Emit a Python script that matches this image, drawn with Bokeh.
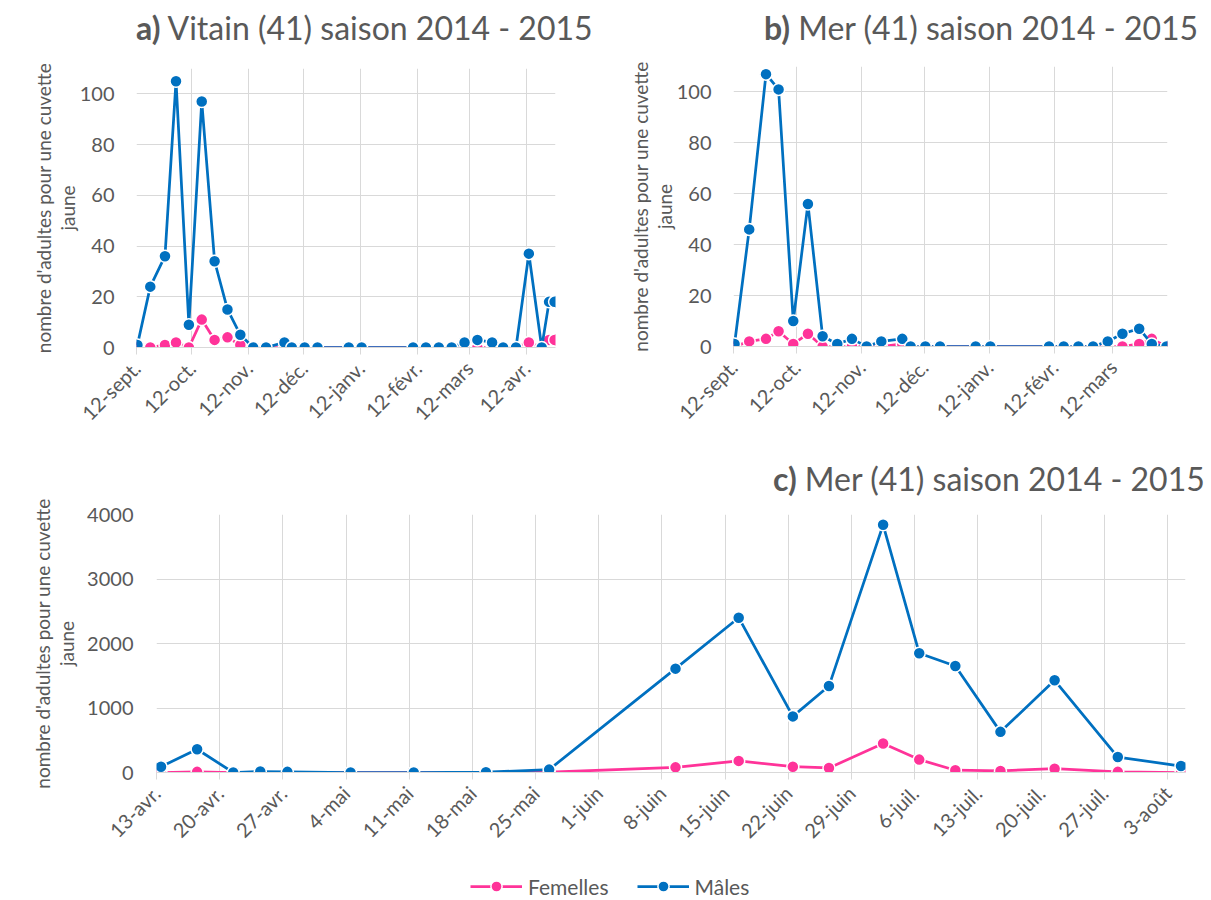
import math
import pandas as pd
from bokeh.plotting import figure
from bokeh.models import FixedTicker, Legend, LegendItem, Range1d, ColumnDataSource, Div
from bokeh.layouts import column, row
from bokeh.embed import file_html
from bokeh.resources import INLINE

FONT = "Lato"
TXT = "#595959"
GRID = "#d9d9d9"
BLUE = "#0070C0"
PINK = "#FF3399"

# ---------------- data ----------------
a_dates = ["2014-09-12", "2014-09-19", "2014-09-27", "2014-10-03", "2014-10-10", "2014-10-17",
           "2014-10-24", "2014-10-31", "2014-11-07", "2014-11-14", "2014-11-21", "2014-12-01",
           "2014-12-05", "2014-12-12", "2014-12-19", "2015-01-05", "2015-01-12", "2015-02-09",
           "2015-02-16", "2015-02-23", "2015-03-02", "2015-03-09", "2015-03-16", "2015-03-24",
           "2015-03-30", "2015-04-06", "2015-04-13", "2015-04-20", "2015-04-24", "2015-04-27"]
a_femelles = [0, 0, 1, 2, 0, 11, 3, 4, 1, 0, 0, 0, 0, 0, 0, 0, 0,
              0, 0, 0, 0, 0, 0, 0, 0, 0, 2, 0, 3, 3]
a_males = [1, 24, 36, 105, 9, 97, 34, 15, 5, 0, 0, 2, 0, 0, 0, 0, 0,
           0, 0, 0, 0, 2, 3, 2, 0, 0, 37, 0, 18, 18]

b_dates = ["2014-09-12", "2014-09-19", "2014-09-27", "2014-10-03", "2014-10-10", "2014-10-17",
           "2014-10-24", "2014-10-31", "2014-11-07", "2014-11-14", "2014-11-21", "2014-12-01",
           "2014-12-05", "2014-12-12", "2014-12-19", "2015-01-05", "2015-01-12", "2015-02-09",
           "2015-02-16", "2015-02-23", "2015-03-02", "2015-03-09", "2015-03-16", "2015-03-24",
           "2015-03-30", "2015-04-06"]
b_femelles = [0, 2, 3, 6, 1, 5, 0, 0, 0, 0, 0, 1, 0, 0, 0, 0, 0,
              0, 0, 0, 0, 0, 0, 1, 3, 0]
b_males = [1, 46, 107, 101, 10, 56, 4, 1, 3, 0, 2, 3, 0, 0, 0, 0, 0,
           0, 0, 0, 0, 2, 5, 7, 1, 0]

c_dates = ["2015-04-13", "2015-04-17", "2015-04-21", "2015-04-24", "2015-04-27", "2015-05-04",
           "2015-05-11", "2015-05-19", "2015-05-26", "2015-06-09", "2015-06-16", "2015-06-22",
           "2015-06-26", "2015-07-02", "2015-07-06", "2015-07-10", "2015-07-15", "2015-07-21",
           "2015-07-28", "2015-08-04"]
c_femelles = [0, 10, 0, 0, 0, 0, 0, 0, 5, 80, 180, 90, 70, 450, 200, 35, 25, 60, 10, 0]
c_males = [90, 360, 0, 15, 10, 0, 0, 5, 45, 1610, 2400, 870, 1340, 3840, 1850, 1650, 630, 1430, 240, 100]

ab_tick_dates = ["2014-09-12", "2014-10-12", "2014-11-12", "2014-12-12",
                 "2015-01-12", "2015-02-12", "2015-03-12", "2015-04-12"]
ab_tick_labels = ["12-sept.", "12-oct.", "12-nov.", "12-déc.",
                  "12-janv.", "12-févr.", "12-mars", "12-avr."]
c_tick_dates = ["2015-04-13", "2015-04-20", "2015-04-27", "2015-05-04", "2015-05-11", "2015-05-18",
                "2015-05-25", "2015-06-01", "2015-06-08", "2015-06-15", "2015-06-22", "2015-06-29",
                "2015-07-06", "2015-07-13", "2015-07-20", "2015-07-27", "2015-08-03"]
c_tick_labels = ["13-avr.", "20-avr.", "27-avr.", "4-mai", "11-mai", "18-mai", "25-mai", "1-juin",
                 "8-juin", "15-juin", "22-juin", "29-juin", "6-juil.", "13-juil.", "20-juil.",
                 "27-juil.", "3-août"]
ab_y_ticks = [0, 20, 40, 60, 80, 100]
c_y_ticks = [0, 1000, 2000, 3000, 4000]

series_names = ["Femelles", "Mâles"]
y_title = "nombre d'adultes pour une cuvette\njaune"
titles = [("a)", "Vitain (41) saison 2014 - 2015"),
          ("b)", "Mer (41) saison 2014 - 2015"),
          ("c)", "Mer (41) saison 2014 - 2015")]


def ms(d):
    return pd.Timestamp(d).value / 1e6


def day_ms(n):
    return n * 86400000.0


def draw_series(p, xs, fem, mal):
    sf = ColumnDataSource(dict(x=xs, y=fem))
    sm = ColumnDataSource(dict(x=xs, y=mal))
    lf = p.line("x", "y", source=sf, line_color=PINK, line_width=2.75, line_join="round")
    cf = p.scatter("x", "y", source=sf, size=12, fill_color=PINK, line_color="white", line_width=1.5)
    lm = p.line("x", "y", source=sm, line_color=BLUE, line_width=2.75, line_join="round")
    cm = p.scatter("x", "y", source=sm, size=12, fill_color=BLUE, line_color="white", line_width=1.5)
    return lf, cf, lm, cm


def make_fig(width, height, borders, x_start, x_end, y_max, y_ticks,
             tick_dates, tick_labels, dates, fem, mal, ytick_standoff, ylabel_standoff):
    left, right, top, bottom = borders
    p = figure(width=width, height=height, x_axis_type="datetime",
               output_backend="svg", toolbar_location=None,
               x_range=Range1d(ms(x_start), ms(x_end)), y_range=Range1d(0, y_max),
               min_border_left=left, min_border_right=right,
               min_border_top=top, min_border_bottom=bottom)
    p.outline_line_color = None
    p.background_fill_color = "white"
    p.border_fill_color = "white"

    ticks = [ms(d) for d in tick_dates]
    p.xaxis.ticker = FixedTicker(ticks=ticks)
    p.xaxis.major_label_overrides = {t: l for t, l in zip(ticks, tick_labels)}
    p.xaxis.major_label_orientation = math.pi / 4
    p.xaxis.major_label_text_font = FONT
    p.xaxis.major_label_text_font_size = "20px"
    p.xaxis.major_label_text_color = TXT
    p.xaxis.major_label_standoff = 10
    p.xaxis.axis_line_color = GRID
    p.xaxis.major_tick_line_color = GRID
    p.xaxis.major_tick_out = 7
    p.xaxis.major_tick_in = 0
    p.xaxis.minor_tick_line_color = None

    p.yaxis.ticker = FixedTicker(ticks=y_ticks)
    p.yaxis.axis_line_color = None
    p.yaxis.major_tick_line_color = None
    p.yaxis.minor_tick_line_color = None
    p.yaxis.major_tick_out = 0
    p.yaxis.major_tick_in = 0
    p.yaxis.major_label_text_font = FONT
    p.yaxis.major_label_text_font_size = "20px"
    p.yaxis.major_label_text_color = TXT
    p.yaxis.major_label_standoff = ytick_standoff
    p.yaxis.axis_label = y_title
    p.yaxis.axis_label_text_font = FONT
    p.yaxis.axis_label_text_font_size = "19px"
    p.yaxis.axis_label_text_font_style = "normal"
    p.yaxis.axis_label_text_color = TXT
    p.yaxis.axis_label_text_line_height = 1.05
    p.yaxis.axis_label_standoff = ylabel_standoff

    p.xgrid.grid_line_color = GRID
    p.ygrid.grid_line_color = GRID
    p.xgrid.grid_line_width = 1
    p.ygrid.grid_line_width = 1

    xs = [ms(d) + day_ms(0.5) for d in dates]
    draw_series(p, xs, fem, mal)
    return p


def title_div(width, height, left, top, letter, rest):
    html = ('<div style="position:relative;width:%dpx;height:%dpx;">'
            '<span style="position:absolute;left:%dpx;top:%dpx;font-family:Lato;font-size:32px;'
            'line-height:32px;color:%s;white-space:nowrap;"><b>%s</b> %s</span></div>'
            % (width, height, left, top, TXT, letter, rest))
    return Div(text=html, width=width, height=height, margin=0)


# chart a : frame 136..555 x 68..347 (page)
pa = make_fig(605, 405, (136, 50, 18, 108), "2014-09-12", "2015-04-28", 110, ab_y_ticks,
              ab_tick_dates, ab_tick_labels, a_dates, a_femelles, a_males, 22, -2)
da = title_div(605, 50, 136, 12, *titles[0])

# chart b : frame 733..1167 x 66..346
pb = make_fig(606, 405, (128, 44, 16, 109), "2014-09-12", "2015-04-07", 110, ab_y_ticks,
              ab_tick_dates[:-1], ab_tick_labels[:-1], b_dates, b_femelles, b_males, 22, -2)
db = title_div(606, 50, 159, 12, *titles[1])

# chart c : frame 156..1185 x 514..772
dc = title_div(1211, 41, 773, 8, *titles[2])
pc = make_fig(1211, 364, (156, 26, 18, 88), "2015-04-13", "2015-08-05", 4000, c_y_ticks,
              c_tick_dates, c_tick_labels, c_dates, c_femelles, c_males, 23, 6)

# legend strip (860..900); its series lie outside its own (empty) view
pl = figure(width=1211, height=40, output_backend="svg", toolbar_location=None,
            x_axis_location=None, y_axis_location=None, min_border=0,
            x_range=Range1d(0, 1), y_range=Range1d(0, 1))
pl.outline_line_color = None
pl.xgrid.visible = False
pl.ygrid.visible = False
rl = draw_series(pl, [ms(d) for d in c_dates], c_femelles, c_males)
legend = Legend(items=[LegendItem(label=series_names[0], renderers=[rl[0], rl[1]]),
                       LegendItem(label=series_names[1], renderers=[rl[2], rl[3]])],
                location=(314, 0), orientation="horizontal",
                glyph_width=52, glyph_height=28, label_height=28,
                label_text_font=FONT, label_text_font_size="21px", label_text_color=TXT,
                label_standoff=6, spacing=28, padding=0, margin=0,
                border_line_color=None, background_fill_alpha=0)
pl.add_layout(legend)

layout = column(row(column(da, pa), column(db, pb)), column(dc, pc, pl))
open("out.html", "w").write(file_html(layout, INLINE))
